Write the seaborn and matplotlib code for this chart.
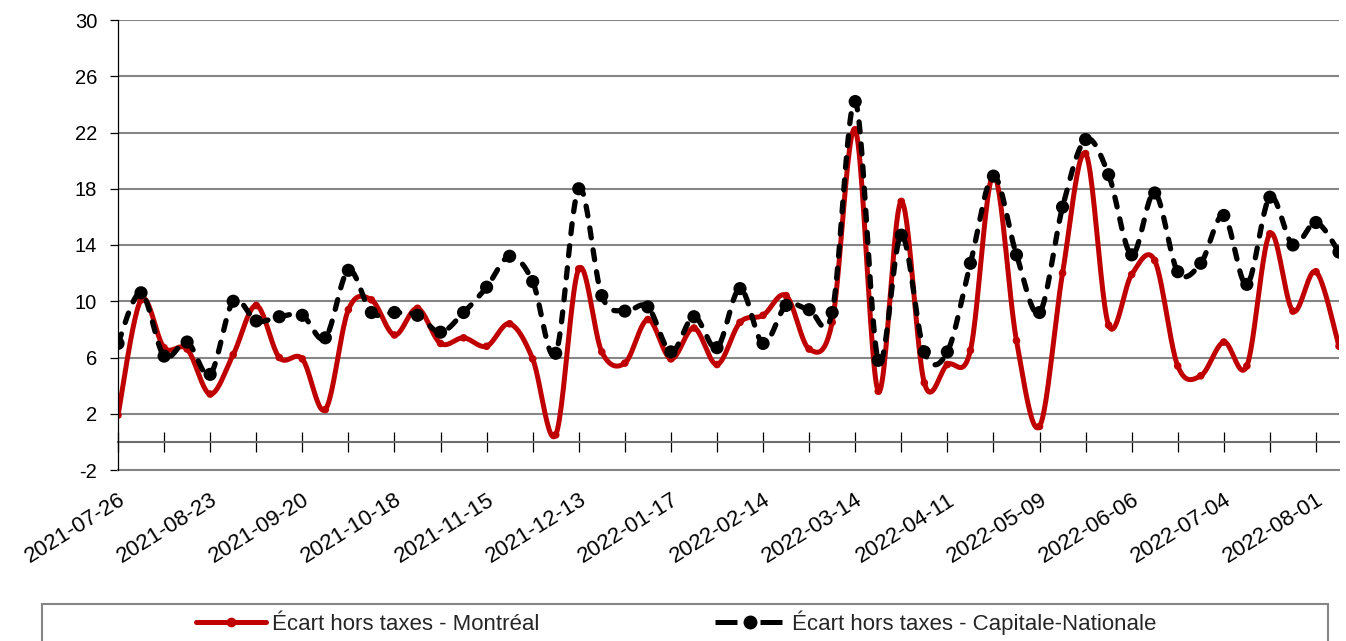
import numpy as np
import pandas as pd
import matplotlib
matplotlib.use("Agg")
import matplotlib.pyplot as plt
from matplotlib.lines import Line2D
from matplotlib.patches import Rectangle
import seaborn as sns

# ---------------- data ----------------
dates = [
    "2021-07-26", "2021-08-02", "2021-08-09", "2021-08-16", "2021-08-23", "2021-08-30",
    "2021-09-06", "2021-09-13", "2021-09-20", "2021-09-27", "2021-10-04", "2021-10-11",
    "2021-10-18", "2021-10-25", "2021-11-01", "2021-11-08", "2021-11-15", "2021-11-22",
    "2021-11-29", "2021-12-06", "2021-12-13", "2021-12-20", "2022-01-03", "2022-01-10",
    "2022-01-17", "2022-01-24", "2022-01-31", "2022-02-07", "2022-02-14", "2022-02-21",
    "2022-02-28", "2022-03-07", "2022-03-14", "2022-03-21", "2022-03-28", "2022-04-04",
    "2022-04-11", "2022-04-18", "2022-04-25", "2022-05-02", "2022-05-09", "2022-05-16",
    "2022-05-23", "2022-05-30", "2022-06-06", "2022-06-13", "2022-06-20", "2022-06-27",
    "2022-07-04", "2022-07-11", "2022-07-18", "2022-07-25", "2022-08-01", "2022-08-08",
]
montreal = [
    1.9, 10.1, 6.7, 6.6, 3.4, 6.2, 9.7, 6.0, 5.9, 2.3,
    9.4, 10.1, 7.6, 9.5, 7.0, 7.4, 6.8, 8.4, 5.9, 0.5,
    12.3, 6.4, 5.6, 8.7, 5.9, 8.1, 5.5, 8.5, 9.0, 10.4,
    6.6, 8.5, 22.2, 3.6, 17.1, 4.2, 5.5, 6.5, 19.0, 7.2,
    1.1, 12.0, 20.5, 8.3, 11.9, 12.9, 5.4, 4.7, 7.1, 5.4,
    14.8, 9.3, 12.1, 6.8,
]
capitale = [
    7.0, 10.6, 6.1, 7.1, 4.8, 10.0, 8.6, 8.9, 9.0, 7.4,
    12.2, 9.2, 9.2, 9.0, 7.8, 9.2, 11.0, 13.2, 11.4, 6.3,
    18.0, 10.4, 9.3, 9.6, 6.4, 8.9, 6.7, 10.9, 7.0, 9.7,
    9.4, 9.2, 24.2, 5.8, 14.7, 6.4, 6.4, 12.7, 18.9, 13.3,
    9.2, 16.7, 21.5, 19.0, 13.3, 17.7, 12.1, 12.7, 16.1, 11.2,
    17.4, 14.0, 15.6, 13.5,
]
label_mtl = "Écart hors taxes - Montréal"
label_cn = "Écart hors taxes - Capitale-Nationale"
y_ticks = [-2, 2, 6, 10, 14, 18, 22, 26, 30]

RED = "#C00000"
BLACK = "#000000"
GRID = "#868686"


def smooth(ys, n=24):
    """Excel-like smoothed curve (Catmull-Rom as cubic Bezier)."""
    P = np.column_stack([np.arange(len(ys), dtype=float), np.asarray(ys, float)])
    out = []
    last = len(P) - 1
    for i in range(last):
        p0 = P[max(i - 1, 0)]
        p1 = P[i]
        p2 = P[i + 1]
        p3 = P[min(i + 2, last)]
        c1 = p1 + (p2 - p0) / 6.0
        c2 = p2 - (p3 - p1) / 6.0
        t = np.linspace(0, 1, n, endpoint=(i == last - 1))[:, None]
        b = ((1 - t) ** 3) * p1 + 3 * ((1 - t) ** 2) * t * c1 + 3 * (1 - t) * (t ** 2) * c2 + (t ** 3) * p2
        out.append(b)
    arr = np.vstack(out)
    return pd.DataFrame({"x": arr[:, 0], "y": arr[:, 1]})


sns.set_theme(style="white")
plt.rcParams["font.family"] = ["Liberation Sans", "DejaVu Sans"]

W, H = 1346, 641
fig = plt.figure(figsize=(W / 100, H / 100), dpi=100)
ax = fig.add_axes([118 / W, 1 - 470 / H, (1339 - 118) / W, (470 - 20) / H])

n = len(dates)
idx = np.arange(n)

# Montréal
sns.lineplot(data=smooth(montreal), x="x", y="y", sort=False, estimator=None,
             color=RED, lw=3.6, ax=ax, zorder=3, solid_capstyle="round")
sns.scatterplot(x=idx, y=montreal, color=RED, s=30, edgecolor="none", ax=ax, zorder=4)

# Capitale-Nationale
sns.lineplot(data=smooth(capitale), x="x", y="y", sort=False, estimator=None,
             color=BLACK, lw=3.8, ax=ax, zorder=5,
             linestyle=(0, (1.9, 2.3)), dash_capstyle="round")
sns.scatterplot(x=idx, y=capitale, color=BLACK, s=90, edgecolor="none", ax=ax, zorder=6)

ax.set_xlim(0, n - 1)
ax.set_ylim(y_ticks[0], y_ticks[-1])
ax.set_yticks(y_ticks)
ax.set_yticklabels([str(v) for v in y_ticks])
ax.set_xlabel("")
ax.set_ylabel("")

# grid / spines
ax.yaxis.grid(True, color=GRID, lw=1.5)
ax.xaxis.grid(False)
ax.set_axisbelow(True)
for s in ["top", "right"]:
    ax.spines[s].set_visible(False)
ax.spines["left"].set_color("black")
ax.spines["left"].set_linewidth(0.9)
ax.spines["left"].set_zorder(7)
ax.spines["bottom"].set_color(GRID)
ax.spines["bottom"].set_linewidth(1.5)

ax.tick_params(axis="y", direction="out", length=6, width=0.9, color="black",
               labelsize=14.5, pad=9, labelcolor="black", left=True)

# x labels (bottom of plot area)
ax.set_xticks(idx[::4])
ax.set_xticklabels(dates[::4])
ax.tick_params(axis="x", length=0, labelsize=16, pad=14, labelcolor="black")
plt.setp(ax.get_xticklabels(), rotation=32, ha="right", rotation_mode="anchor")

# horizontal axis at value 0 with cross tick marks
loc0 = (0 - y_ticks[0]) / (y_ticks[-1] - y_ticks[0])
sec = ax.secondary_xaxis(loc0)
sec.set_xticks(idx[::2])
sec.tick_params(axis="x", direction="inout", length=14, width=0.9, color="black",
                labelbottom=False, labeltop=False)
sec.spines["bottom"].set_color("#6e6e6e")
sec.spines["bottom"].set_linewidth(1.5)
for s in ["top", "left", "right"]:
    sec.spines[s].set_visible(False)

# legend
handles = [
    Line2D([], [], color=RED, lw=3.6, marker="o", ms=6, mec=RED, solid_capstyle="round"),
    Line2D([], [], color=BLACK, lw=3.6, marker="o", ms=9, mec=BLACK,
           linestyle=(0, (4.4, 4.6)), dash_capstyle="butt"),
]
fig.legend(handles, [label_mtl, label_cn], ncol=2, loc="center",
           bbox_to_anchor=(676 / W, 1 - 623 / H), bbox_transform=fig.transFigure,
           frameon=False, fontsize=16, handlelength=3.15, handletextpad=0.3,
           columnspacing=7.9)
fig.patches.append(Rectangle((42 / W, -0.1), (1328 - 42) / W, 0.1 + (641 - 604) / H,
                             transform=fig.transFigure, fill=False,
                             ec=GRID, lw=1.5, zorder=0))

fig.savefig("out.png", dpi=100)
